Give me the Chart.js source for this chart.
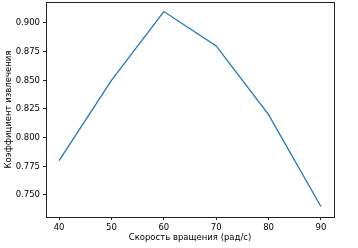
<!DOCTYPE html>
<html>
<head>
<meta charset="utf-8">
<script src="https://cdn.jsdelivr.net/npm/chart.js@4"></script>
<style>
  html, body { margin: 0; padding: 0; background: white; }
  #wrap { width: 358px; height: 248px; }
</style>
</head>
<body>
<div id="wrap"><canvas id="speedChart" width="358" height="248"></canvas></div>
<script>
const speeds = [40, 50, 60, 70, 80, 90];
const extraction = [0.78, 0.85, 0.91, 0.88, 0.82, 0.74];
const xTicks = [40, 50, 60, 70, 80, 90];
const yTicks = [0.75, 0.775, 0.8, 0.825, 0.85, 0.875, 0.9];

// matplotlib style box round the plot area
const frame = {
  id: "frame",
  afterDraw(chart) {
    const a = chart.chartArea;
    const ctx = chart.ctx;
    ctx.save();
    ctx.strokeStyle = "#222";
    ctx.lineWidth = 1;
    ctx.strokeRect(Math.round(a.left) + 0.5, Math.round(a.top) + 0.5,
      Math.round(a.right - a.left), Math.round(a.bottom - a.top));
    ctx.restore();
  }
};

const font = { family: "DejaVu Sans", size: 8.5 };

new Chart(document.getElementById("speedChart"), {
  type: "line",
  data: {
    datasets: [{
      data: speeds.map((s, i) => ({ x: s, y: extraction[i] })),
      borderColor: "#1f77b4",
      borderWidth: 1.3,
      pointRadius: 0,
      tension: 0
    }]
  },
  options: {
    responsive: false,
    animation: false,
    layout: { padding: { left: 0, right: 24, top: 2, bottom: 0 } },
    plugins: { legend: { display: false }, tooltip: { enabled: false } },
    scales: {
      x: {
        type: "linear",
        min: 37.5,
        max: 92.5,
        afterBuildTicks: (axis) => { axis.ticks = xTicks.map(v => ({ value: v })); },
        afterFit: (axis) => { axis.height = 31; axis.paddingLeft = 0; axis.paddingRight = 0; },
        ticks: { color: "#000", font, padding: 3, maxRotation: 0 },
        grid: { drawOnChartArea: false, drawTicks: true, tickLength: 3, color: "#222" },
        border: { display: false },
        title: { display: true, text: "Скорость вращения (рад/с)", color: "#000", font, padding: { top: 0, bottom: 5 } }
      },
      y: {
        min: 0.7308,
        max: 0.9183,
        afterBuildTicks: (axis) => { axis.ticks = yTicks.map(v => ({ value: v })); },
        afterFit: (axis) => { axis.width = 46; axis.paddingTop = 0; axis.paddingBottom = 0; },
        ticks: { color: "#000", font, padding: 3, callback: (v) => v.toFixed(3) },
        grid: { drawOnChartArea: false, drawTicks: true, tickLength: 3, color: "#222" },
        border: { display: false },
        title: { display: true, text: "Коэффициент извлечения", color: "#000", font, padding: { top: 4, bottom: 0 } }
      }
    }
  },
  plugins: [frame]
});
</script>
</body>
</html>
